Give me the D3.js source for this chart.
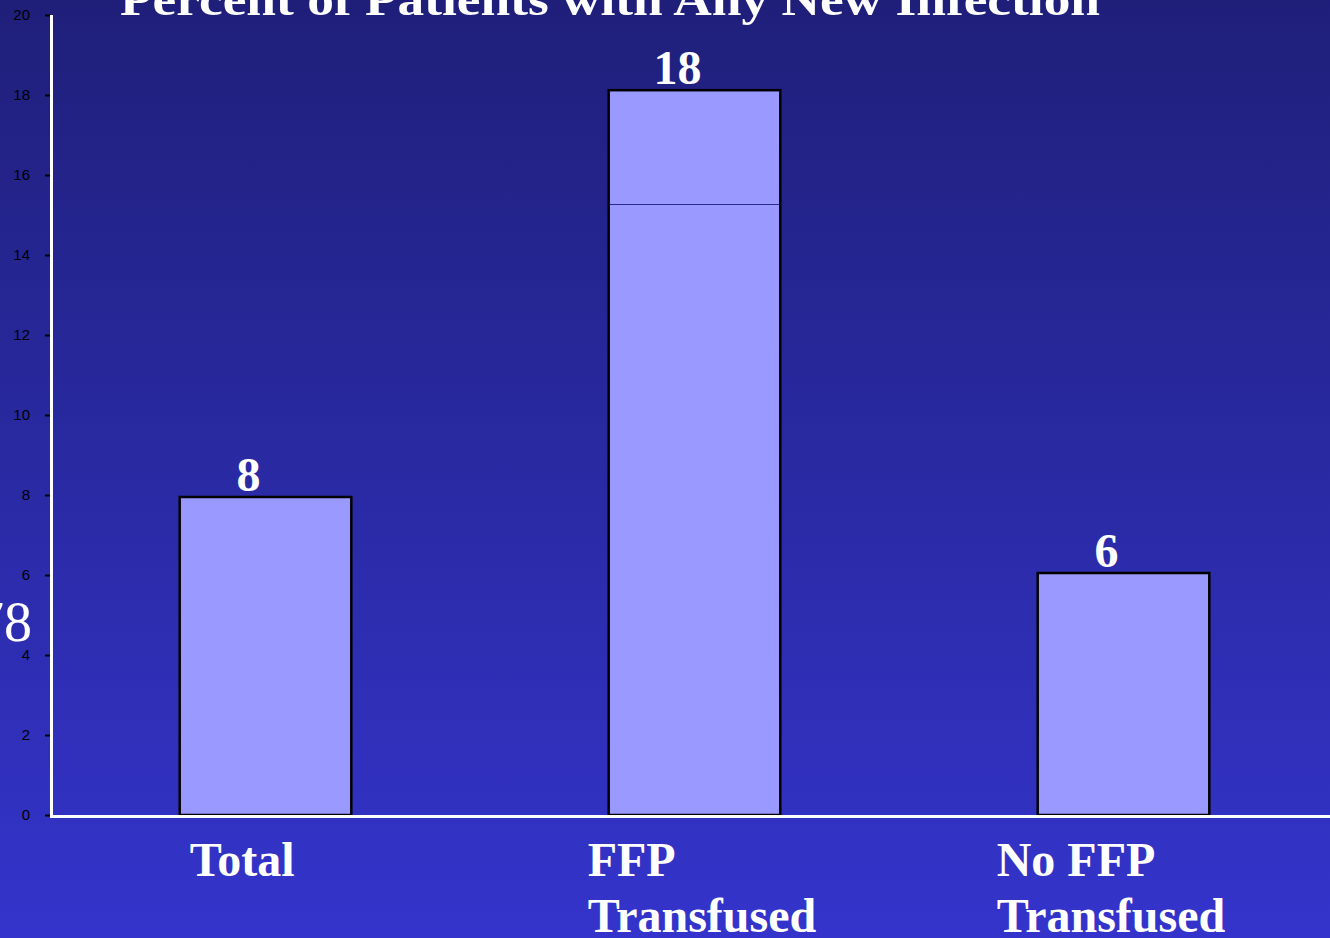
<!DOCTYPE html>
<html>
<head>
<meta charset="utf-8">
<script src="https://cdn.jsdelivr.net/npm/d3@7"></script>
<style>
    html, body { margin: 0; padding: 0; overflow: hidden; }
    svg { display: block; }
</style>
</head>
<body>
<script>
// chart data
var categories = ['Total', 'FFP Transfused', 'No FFP Transfused'];
var labelLines = [['Total'], ['FFP', 'Transfused'], ['No FFP', 'Transfused']];
var values = [7.95, 18.12, 6.05];
var valueLabels = ['8', '18', '6'];
var innerLines = [null, 15.28, null];
var yTicks = [0, 2, 4, 6, 8, 10, 12, 14, 16, 18, 20];
var titleText = 'Percent of Patients with Any New Infection';

// label nudges, px from band start
var labelDx = [10, -21, -41];

var W = 1330, H = 938;
var svg = d3.select('body').append('svg')
    .attr('width', W)
    .attr('height', H);

var defs = svg.append('defs');
var grad = defs.append('linearGradient')
    .attr('id', 'bg')
    .attr('x1', 0).attr('y1', 0)
    .attr('x2', 0).attr('y2', 1);
grad.append('stop').attr('offset', '0%').attr('stop-color', '#1f1f7a');
grad.append('stop').attr('offset', '100%').attr('stop-color', '#3434cc');

svg.append('rect')
    .attr('width', W)
    .attr('height', H)
    .style('fill', 'url(#bg)');

var x = d3.scaleBand()
    .domain(categories)
    .range([51, 1338])
    .paddingInner(0.6)
    .paddingOuter(0.3);

var y = d3.scaleLinear()
    .domain([0, 20])
    .range([815, 15]);

// title, cut off at the top like the slide
svg.append('text')
    .attr('x', 120)
    .attr('y', 15)
    .attr('textLength', 980)
    .attr('lengthAdjust', 'spacingAndGlyphs')
    .text(titleText)
    .style('font-family', '"Liberation Serif", "Times New Roman", serif')
    .style('font-weight', 'bold')
    .style('font-size', '46px')
    .style('fill', 'white');

// stray label fragment at the left edge
svg.append('text')
    .attr('x', 32)
    .attr('y', 641)
    .attr('text-anchor', 'end')
    .text('78')
    .style('font-family', '"Liberation Serif", "Times New Roman", serif')
    .style('font-size', '56px')
    .style('fill', 'white');

// bars
svg.selectAll('.bar')
    .data(categories)
    .enter().append('rect')
    .attr('class', 'bar')
    .attr('x', function(d) { return x(d); })
    .attr('y', function(d, i) { return y(values[i]); })
    .attr('width', x.bandwidth())
    .attr('height', function(d, i) { return y(0) - y(values[i]); })
    .style('fill', '#9999ff')
    .style('stroke', 'black')
    .style('stroke-width', 2.5);

categories.forEach(function(c, i) {
    if (innerLines[i] === null) return;
    svg.append('line')
        .attr('x1', x(c) + 1)
        .attr('x2', x(c) + x.bandwidth() - 1)
        .attr('y1', Math.round(y(innerLines[i])) + 0.5)
        .attr('y2', Math.round(y(innerLines[i])) + 0.5)
        .style('stroke', '#2a2a8c')
        .style('stroke-width', 1);
});

// value labels
svg.selectAll('.val')
    .data(categories)
    .enter().append('text')
    .attr('class', 'val')
    .attr('x', function(d) { return x(d) + x.bandwidth() / 2 - 17; })
    .attr('y', function(d, i) { return y(values[i]) - 6; })
    .attr('text-anchor', 'middle')
    .text(function(d, i) { return valueLabels[i]; })
    .style('font-family', '"Liberation Serif", "Times New Roman", serif')
    .style('font-weight', 'bold')
    .style('font-size', '48px')
    .style('fill', 'white');

// y axis ticks
var yAxis = d3.axisLeft(y)
    .tickValues(yTicks)
    .tickSize(6)
    .tickPadding(15)
    .tickFormat(d3.format('d'));
var ya = svg.append('g')
    .attr('transform', 'translate(51,0)')
    .call(yAxis);
ya.select('.domain').remove();
ya.selectAll('.tick line')
    .style('stroke', 'black')
    .style('stroke-width', 2);
ya.selectAll('.tick text')
    .style('fill', 'black')
    .style('font-family', '"Liberation Sans", Arial, sans-serif')
    .style('font-size', '15px');

// axis lines
svg.append('line')
    .attr('x1', 51.5).attr('x2', 51.5)
    .attr('y1', y(20)).attr('y2', 818)
    .style('stroke', 'white')
    .style('stroke-width', 3);
svg.append('line')
    .attr('x1', 50).attr('x2', W)
    .attr('y1', 816.5).attr('y2', 816.5)
    .style('stroke', 'white')
    .style('stroke-width', 3);

// category labels
categories.forEach(function(c, i) {
    var t = svg.append('text')
        .attr('x', x(c) + labelDx[i])
        .attr('y', 876)
        .style('font-family', '"Liberation Serif", "Times New Roman", serif')
        .style('font-weight', 'bold')
        .style('font-size', '48px')
        .style('fill', 'white');
    labelLines[i].forEach(function(line, j) {
        t.append('tspan')
            .attr('x', x(c) + labelDx[i])
            .attr('dy', j === 0 ? 0 : 56)
            .text(line);
    });
});
</script>
</body>
</html>
